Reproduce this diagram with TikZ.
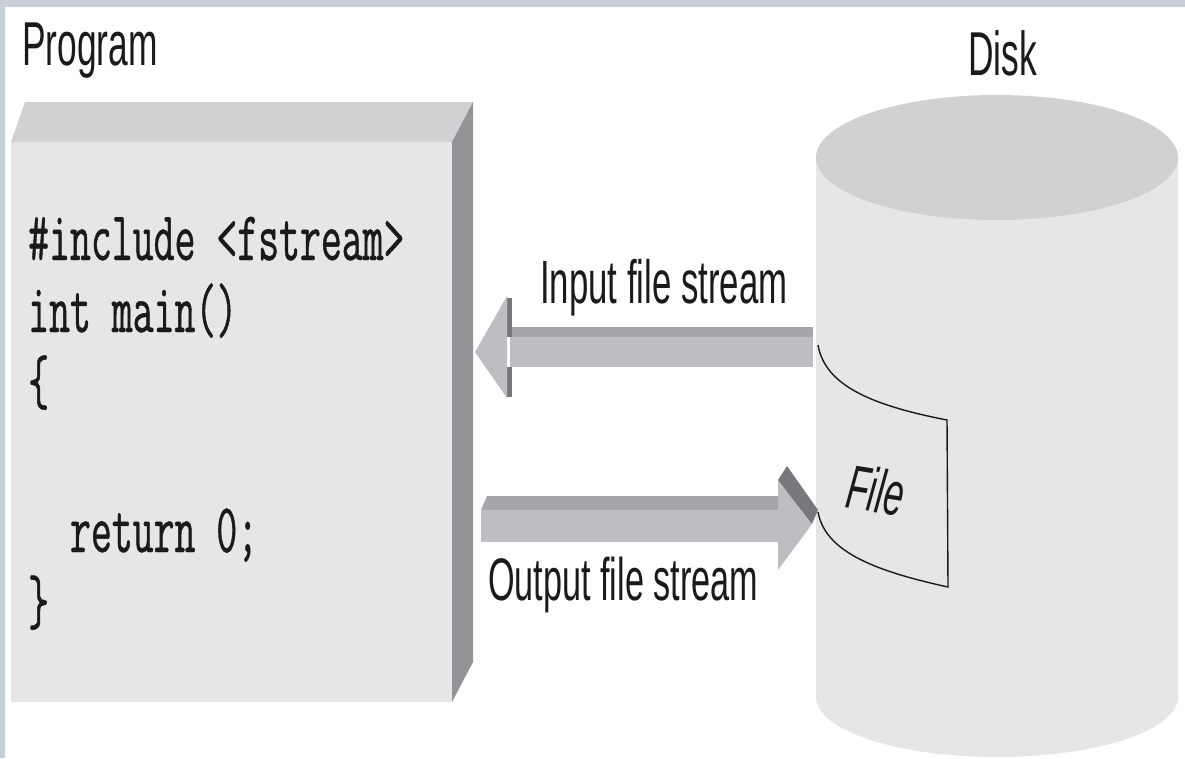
\documentclass[tikz,border=0pt]{standalone}
\usepackage{fontspec}
\newfontfamily\lblfont[FakeStretch=0.57]{Liberation Sans}
\newfontfamily\codefont[FakeStretch=0.58,FakeBold=0.6]{Latin Modern Mono}
\definecolor{framec}{HTML}{C5D0D8}
\definecolor{facefront}{HTML}{E5E6E8}
\definecolor{facetop}{HTML}{D0D1D3}
\definecolor{faceside}{HTML}{939498}
\definecolor{arrlight}{HTML}{BDBEC1}
\definecolor{arrmid}{HTML}{A6A7AA}
\definecolor{arrdark}{HTML}{77787B}
\definecolor{inkc}{HTML}{1A1A1A}
\tikzset{
  lbl/.style={inner sep=0pt, anchor=base west, text=inkc, font=\lblfont\fontsize{#1}{#1}\selectfont},
  codeline/.style={inner sep=0pt, anchor=base west, text=inkc, font=\codefont\fontsize{70}{70}\selectfont},
}
\begin{document}
\begin{tikzpicture}[x=1pt,y=-1pt]
\useasboundingbox (0,0) rectangle (1185,758);
\fill[white] (0,0) rectangle (1185,758);
% frame
\fill[framec] (0,0) rectangle (1185,7);
\fill[framec] (0,0) rectangle (5,758);
% program box
\fill[facefront] (11,142) rectangle (452,702);
\fill[facetop] (11,142) -- (25,102) -- (473,102) -- (452,142) -- cycle;
\fill[faceside] (452,142) -- (473,102) -- (473,662) -- (452,702) -- cycle;
% disk cylinder
\fill[facefront] (816,157) rectangle (1178,697);
\fill[facefront] (997,697) ellipse [x radius=181, y radius=60];
\fill[facetop] (997,157.5) ellipse [x radius=181, y radius=62.5];
% file
\draw[inkc, line width=1.4pt] (818,345) .. controls (825,385) and (870,405) .. (947,420)
  -- (948,587) .. controls (870,570) and (825,550) .. (818,512);
% input arrow (to the left)
\fill[arrlight] (510,337) rectangle (813,367);
\fill[arrmid] (510,327) rectangle (813,337);
\fill[arrdark] (506,298) rectangle (512,337);
\fill[arrdark] (506,367) rectangle (512,397);
\fill[arrlight] (475,352) -- (507,296) -- (507,398) -- cycle;
% output arrow (to the right)
\fill[arrmid] (481,510) -- (487,496) -- (779,496) -- (779,510) -- cycle;
\fill[arrlight] (481,510) rectangle (779,542);
\fill[arrlight] (778,480) -- (812,524) -- (778,570) -- cycle;
\fill[arrdark] (778,480) -- (787,466) -- (818,510) -- (812,524) -- cycle;
% labels
\node[lbl=62] (program) at (22,65) {Program};
\node[lbl=62] (disk) at (968,75) {Disk};
\node[lbl=61] (instream) at (540,303) {Input file stream};
\node[lbl=60] (outstream) at (488,600) {Output file stream};
\node[inner sep=0pt, text=inkc, rotate=-9, font=\lblfont\itshape\fontsize{62}{62}\selectfont] (file) at (876,490) {File};
% code
\node[codeline] (c1) at (28,260) {\#include <fstream>};
\node[codeline] (c2) at (28,332) {int main()};
\node[codeline] (c3) at (28,404) {\{};
\node[codeline] (c5) at (28,552) {\ \ return 0;};
\node[codeline] (c6) at (28,624) {\}};
\end{tikzpicture}
\end{document}
